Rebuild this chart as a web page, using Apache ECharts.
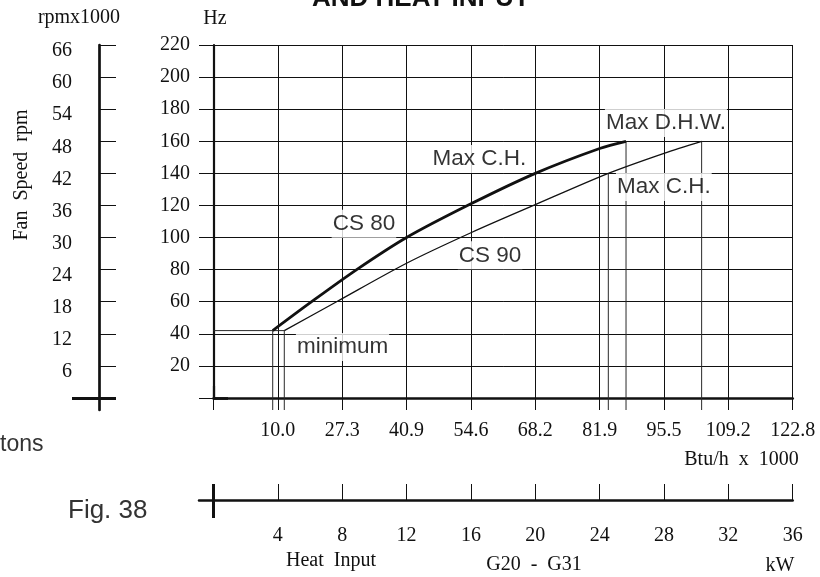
<!DOCTYPE html>
<html><head><meta charset="utf-8">
<script src="https://cdn.jsdelivr.net/npm/echarts@6/dist/echarts.min.js"></script>
<style>html,body{margin:0;padding:0;background:#fff}#c{width:820px;height:577px}</style>
</head><body><div id="c"></div>
<script>
// ---------------- data ----------------
const kwMax = 36, kwStep = 4;
const hzMax = 220, hzStep = 20;
const rpmMax = 66;
const btuTickLabels = ['', '10.0', '27.3', '40.9', '54.6', '68.2', '81.9', '95.5', '109.2', '122.8'];
const kwTickValues = [4, 8, 12, 16, 20, 24, 28, 32, 36];
const rpmTickValues = [6, 12, 18, 24, 30, 36, 42, 48, 54, 60, 66];

const cs80Kw = [3.68, 6.1, 8.9, 12, 16, 20, 24, 25.64];
const cs80Hz = [42, 60, 80, 100, 121, 140, 155.5, 160];
const cs90Kw = [4.40, 7.65, 12, 16, 20, 24.54, 28, 30.34];
const cs90Hz = [42, 60, 84, 103, 120.5, 140, 152.5, 160];

// reference points dropped to the kW axis
const refKw = [3.68, 4.40, 24.54, 25.64, 30.34];
const refHz = [42, 42, 140, 160, 160];
const minLineHz = 42;
const minLineKw = 4.40;

const annoText = ['Max D.H.W.', 'Max C.H.', 'Max C.H.', 'CS 80', 'CS 90', 'minimum'];
const annoKw = [28.12, 16.53, 27.99, 9.35, 17.19, 8.02];
const annoHz = [171.4, 149.0, 131.5, 108.6, 88.9, 31.8];

// ---------------- layout ----------------
const plotLeft = 213.5, plotTop = 45, plotW = 579.2, plotH = 353;
const tickDown = 12, tickLeft = 14.5;
const pxPerKw = plotW / kwMax, pxPerHz = plotH / hzMax, pxPerRpm = plotH / rpmMax;
const kwExt = tickLeft / pxPerKw;
const hzExt = tickDown / pxPerHz;
const rpmExt = tickDown / pxPerRpm;

const INK = '#111';
const SERIF = '"Liberation Serif", "DejaVu Serif", serif';
const SANS = '"Liberation Sans", Arial, sans-serif';
const serifLabel = {color: INK, fontFamily: SERIF, fontSize: 20};

function tickOnlyAxis(extra) {
  return Object.assign({
    type: 'value', axisLine: {show: false}, splitLine: {show: false},
    axisLabel: {show: false}
  }, extra);
}

const chart = echarts.init(document.getElementById('c'), null, {renderer: 'canvas'});

const option = {
  animation: false,
  backgroundColor: '#fff',
  grid: [
    {left: plotLeft, top: plotTop, width: plotW, height: plotH},
    {left: 99, top: plotTop, width: 1, height: plotH + tickDown},
    {left: plotLeft - tickLeft, top: 499, width: plotW + tickLeft, height: 1}
  ],
  xAxis: [
    {type: 'value', gridIndex: 0, min: 0, max: kwMax, interval: kwStep,
     axisLine: {lineStyle: {color: INK, width: 2.7}},
     axisTick: {inside: false, length: tickDown, lineStyle: {color: INK, width: 1}},
     splitLine: {show: true, lineStyle: {color: INK, width: 1}},
     axisLabel: Object.assign({margin: 23, formatter: v => btuTickLabels[Math.round(v / kwStep)]}, serifLabel)},
    tickOnlyAxis({gridIndex: 0, min: 0, max: kwMax,
     axisTick: {customValues: [0], inside: false, length: tickDown, lineStyle: {color: INK, width: 2.2}}}),
    {type: 'value', gridIndex: 2, min: -kwExt, max: kwMax,
     axisLine: {lineStyle: {color: INK, width: 2.5}},
     axisTick: {customValues: kwTickValues, inside: true, length: 13, lineStyle: {color: INK, width: 1}},
     splitLine: {show: false},
     axisLabel: Object.assign({customValues: kwTickValues, margin: 26}, serifLabel)},
    tickOnlyAxis({gridIndex: 2, min: -kwExt, max: kwMax,
     axisTick: {customValues: kwTickValues, inside: false, length: 15, lineStyle: {color: INK, width: 1}}}),
    tickOnlyAxis({gridIndex: 2, min: -kwExt, max: kwMax,
     axisTick: {customValues: [0], inside: true, length: 19, lineStyle: {color: INK, width: 3}}}),
    tickOnlyAxis({gridIndex: 2, min: -kwExt, max: kwMax,
     axisTick: {customValues: [0], inside: false, length: 15, lineStyle: {color: INK, width: 3}}}),
    {type: 'value', gridIndex: 1, show: false, min: 0, max: 1}
  ],
  yAxis: [
    {type: 'value', gridIndex: 0, min: 0, max: hzMax, interval: hzStep,
     axisLine: {show: true, lineStyle: {color: INK, width: 2.2}},
     axisTick: {show: true, inside: false, length: tickLeft, lineStyle: {color: INK, width: 1}},
     splitLine: {show: true, lineStyle: {color: INK, width: 1}},
     axisLabel: Object.assign({margin: 23.5, formatter: v => (v === 0 ? '' : String(v))}, serifLabel)},
    tickOnlyAxis({gridIndex: 0, min: 0, max: hzMax,
     axisTick: {show: true, customValues: [0], inside: false, length: tickLeft, lineStyle: {color: INK, width: 2.7}}}),
    {type: 'value', gridIndex: 1, min: -rpmExt, max: rpmMax,
     axisLine: {show: true, lineStyle: {color: INK, width: 2.7}},
     axisTick: {show: true, customValues: rpmTickValues, inside: true, length: 17, lineStyle: {color: INK, width: 1}},
     splitLine: {show: false},
     axisLabel: Object.assign({customValues: rpmTickValues, margin: 27, verticalAlign: 'top', lineHeight: 12}, serifLabel)},
    tickOnlyAxis({gridIndex: 1, min: -rpmExt, max: rpmMax,
     axisTick: {show: true, customValues: rpmTickValues, inside: false, length: 15, lineStyle: {color: INK, width: 1}}}),
    tickOnlyAxis({gridIndex: 1, min: -rpmExt, max: rpmMax,
     axisTick: {show: true, customValues: [0], inside: true, length: 28, lineStyle: {color: INK, width: 3}}}),
    tickOnlyAxis({gridIndex: 1, min: -rpmExt, max: rpmMax,
     axisTick: {show: true, customValues: [0], inside: false, length: 16, lineStyle: {color: INK, width: 3}}}),
    {type: 'value', gridIndex: 2, show: false, min: 0, max: 1}
  ],
  series: [],
  graphic: []
};

// curves
const zip = (a, b) => a.map((v, i) => [v, b[i]]);
option.series.push({
  name: 'CS 80', type: 'line', xAxisIndex: 0, yAxisIndex: 0, data: zip(cs80Kw, cs80Hz),
  smooth: 0.3, symbol: 'none', z: 6,
  lineStyle: {color: INK, width: 2.8}
});
option.series.push({
  name: 'CS 90', type: 'line', xAxisIndex: 0, yAxisIndex: 0, data: zip(cs90Kw, cs90Hz),
  smooth: 0.3, symbol: 'none', z: 6,
  lineStyle: {color: INK, width: 1.3}
});
// drop lines from reference points down through the kW axis
refKw.forEach((k, i) => {
  option.series.push({
    type: 'line', xAxisIndex: 0, yAxisIndex: 0, clip: false, symbol: 'none', silent: true, z: 2,
    data: [[k, refHz[i]], [k, -hzExt]],
    lineStyle: {color: '#2a2a2a', width: 1}
  });
});
// horizontal minimum line
option.series.push({
  type: 'line', xAxisIndex: 0, yAxisIndex: 0, clip: false, symbol: 'none', silent: true, z: 2,
  data: [[-kwExt, minLineHz], [minLineKw, minLineHz]],
  lineStyle: {color: '#2a2a2a', width: 1}
});
// annotation labels
option.series.push({
  type: 'scatter', xAxisIndex: 0, yAxisIndex: 0, symbolSize: 0, z: 4, silent: true,
  data: annoKw.map((k, i) => ({value: [k, annoHz[i]], name: annoText[i]})),
  label: {show: true, position: 'inside', formatter: p => p.name,
    fontFamily: SANS, fontSize: 22.5, color: '#000', lineHeight: 22,
    backgroundColor: '#fff', padding: [3, 1, 3, 1]}
});

// texts
function txt(x, y, text, font, size, align, extra) {
  return Object.assign({
    type: 'text', x: x, y: y, z: 10,
    style: {text: text, fill: (extra && extra.fill) || INK, font: (extra && extra.bold ? 'bold ' : '') + size + 'px ' + font,
      textAlign: align || 'center', textVerticalAlign: 'middle'}
  }, extra && extra.rotation ? {rotation: extra.rotation} : {});
}
option.graphic = [
  txt(312, -1, 'AND HEAT INPUT', SANS, 26, 'left', {bold: true}),
  txt(79, 17.6, 'rpmx1000', SERIF, 20),
  txt(215, 18.3, 'Hz', SERIF, 20),
  txt(22, 175, 'Fan  Speed  rpm', SERIF, 20, 'center', {rotation: Math.PI / 2}),
  txt(741.5, 460, 'Btu/h  x  1000', SERIF, 20),
  txt(331, 561, 'Heat  Input', SERIF, 20),
  txt(534, 565, 'G20  -  G31', SERIF, 20),
  txt(780, 566, 'kW', SERIF, 20),
  txt(0, 445, 'tons', SANS, 23, 'left', {fill: '#333'}),
  txt(68, 511, 'Fig. 38', SANS, 26, 'left', {fill: '#333'})
];

chart.setOption(option);
</script>
</body></html>
